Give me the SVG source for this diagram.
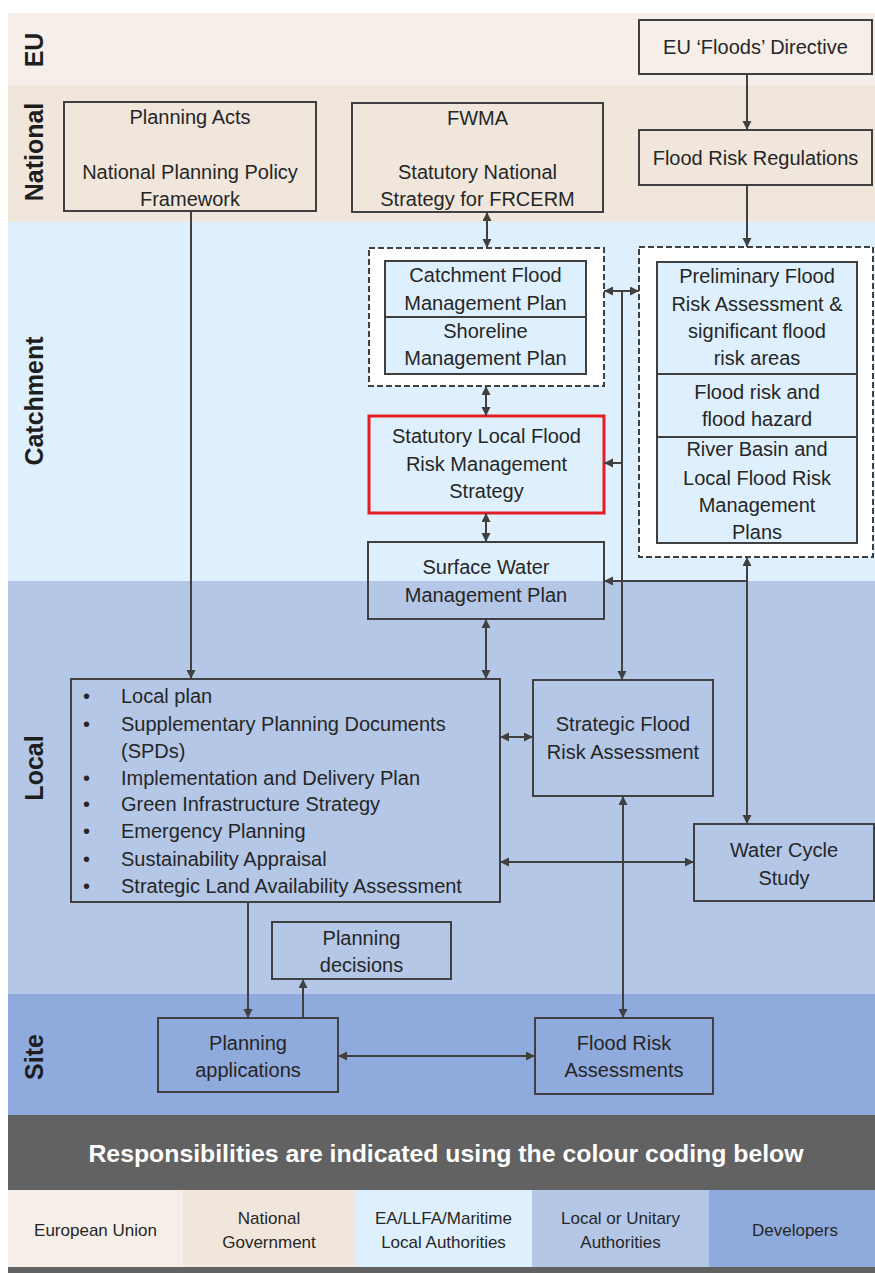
<svg xmlns="http://www.w3.org/2000/svg" width="875" height="1273" viewBox="0 0 875 1273">
<defs>
<marker id="arr" markerUnits="userSpaceOnUse" markerWidth="10" markerHeight="10" refX="9" refY="4.5" orient="auto-start-reverse" viewBox="0 0 10 10">
<path d="M0,0 L9,4.5 L0,9 z" fill="#404040"/>
</marker>
<style>
.box{fill:none;stroke:#404040;stroke-width:2}
.ibox{fill:#def0fd;stroke:#404040;stroke-width:2}
.dash{fill:#ffffff;stroke:#404040;stroke-width:2;stroke-dasharray:6 3}
.red{fill:none;stroke:#e31e24;stroke-width:3}
.t{font-family:"Liberation Sans",Arial,sans-serif;font-size:20px;fill:#262626;text-anchor:middle}
.tl{font-family:"Liberation Sans",Arial,sans-serif;font-size:20px;fill:#262626}
.band{font-family:"Liberation Sans",Arial,sans-serif;font-size:25px;font-weight:bold;fill:#1e1e1e;text-anchor:middle}
.leg{font-family:"Liberation Sans",Arial,sans-serif;font-size:17px;fill:#262626;text-anchor:middle}
.ban{font-family:"Liberation Sans",Arial,sans-serif;font-size:24.8px;font-weight:bold;fill:#ffffff;text-anchor:middle}
.c{fill:none;stroke:#404040;stroke-width:2}
.e{marker-end:url(#arr)}
.b{marker-start:url(#arr);marker-end:url(#arr)}
</style>
</defs>
<rect x="0" y="0" width="875" height="1273" fill="#ffffff"/>
<g id="bands">
<rect x="8" y="13" width="867" height="72" fill="#f6efe9"/>
<rect x="8" y="85" width="867" height="137" fill="#f1e6dc"/>
<rect x="8" y="222" width="867" height="359" fill="#def0fd"/>
<rect x="8" y="581" width="867" height="413" fill="#b4c7e7"/>
<rect x="8" y="994" width="867" height="121" fill="#8faadc"/>
<rect x="8" y="1115" width="867" height="75" fill="#626262"/>
<rect x="8" y="1190" width="175" height="77" fill="#f6efe9"/>
<rect x="183" y="1190" width="172" height="77" fill="#f1e6dc"/>
<rect x="355" y="1190" width="177" height="77" fill="#def0fd"/>
<rect x="532" y="1190" width="177" height="77" fill="#b4c7e7"/>
<rect x="709" y="1190" width="166" height="77" fill="#8faadc"/>
<rect x="8" y="1267" width="867" height="6" fill="#626262"/>
<text class="band" transform="translate(43,50) rotate(-90)">EU</text>
<text class="band" transform="translate(43,152) rotate(-90)">National</text>
<text class="band" transform="translate(43,401) rotate(-90)">Catchment</text>
<text class="band" transform="translate(43,768) rotate(-90)">Local</text>
<text class="band" transform="translate(43,1057) rotate(-90)">Site</text>
</g>
<g id="legend">
<text class="ban" x="446" y="1162">Responsibilities are indicated using the colour coding below</text>
<text class="leg" x="95.5" y="1236">European Union</text>
<text class="leg" x="269" y="1224">National</text>
<text class="leg" x="269" y="1248">Government</text>
<text class="leg" x="443.5" y="1224">EA/LLFA/Maritime</text>
<text class="leg" x="443.5" y="1248">Local Authorities</text>
<text class="leg" x="620.5" y="1224">Local or Unitary</text>
<text class="leg" x="620.5" y="1248">Authorities</text>
<text class="leg" x="795" y="1236">Developers</text>
</g>
<g id="eu-directive">
<rect class="box" x="639" y="20" width="233" height="54"/>
<text class="t" x="755.5" y="54">EU ‘Floods’ Directive</text>
</g>
<g id="flood-risk-regulations">
<rect class="box" x="639" y="130" width="233" height="55"/>
<text class="t" x="755.5" y="165">Flood Risk Regulations</text>
</g>
<g id="planning-acts">
<rect class="box" x="64" y="102" width="252" height="109"/>
<text class="t" x="190" y="124">Planning Acts</text>
<text class="t" x="190" y="179">National Planning Policy</text>
<text class="t" x="190" y="206">Framework</text>
</g>
<g id="fwma">
<rect class="box" x="352" y="103" width="251" height="109"/>
<text class="t" x="477.5" y="125">FWMA</text>
<text class="t" x="477.5" y="179">Statutory National</text>
<text class="t" x="477.5" y="206">Strategy for FRCERM</text>
</g>
<g id="catchment-group">
<rect class="dash" x="369" y="248" width="235" height="138"/>
<rect class="ibox" x="385" y="261" width="201" height="56"/>
<text class="t" x="485.5" y="282">Catchment Flood</text>
<text class="t" x="485.5" y="310">Management Plan</text>
<rect class="ibox" x="385" y="317" width="201" height="57"/>
<text class="t" x="485.5" y="338">Shoreline</text>
<text class="t" x="485.5" y="365">Management Plan</text>
</g>
<g id="regulations-group">
<rect class="dash" x="639" y="247" width="234" height="310"/>
<rect class="ibox" x="657" y="262" width="200" height="112"/>
<text class="t" x="757" y="283">Preliminary Flood</text>
<text class="t" x="757" y="311">Risk Assessment &amp;</text>
<text class="t" x="757" y="338">significant flood</text>
<text class="t" x="757" y="365">risk areas</text>
<rect class="ibox" x="657" y="374" width="200" height="63"/>
<text class="t" x="757" y="399">Flood risk and</text>
<text class="t" x="757" y="426">flood hazard</text>
<rect class="ibox" x="657" y="437" width="200" height="106"/>
<text class="t" x="757" y="456">River Basin and</text>
<text class="t" x="757" y="485">Local Flood Risk</text>
<text class="t" x="757" y="512">Management</text>
<text class="t" x="757" y="539">Plans</text>
</g>
<g id="lfrms">
<rect class="red" x="369" y="416" width="235" height="97"/>
<text class="t" x="486.5" y="443">Statutory Local Flood</text>
<text class="t" x="486.5" y="471">Risk Management</text>
<text class="t" x="486.5" y="498">Strategy</text>
</g>
<g id="swmp">
<rect class="box" x="368" y="542" width="236" height="77"/>
<text class="t" x="486" y="574">Surface Water</text>
<text class="t" x="486" y="602">Management Plan</text>
</g>
<g id="local-plan">
<rect class="box" x="71" y="679" width="429" height="223"/>
<g class="tl">
<text x="83" y="703">•</text><text x="121" y="703">Local plan</text>
<text x="83" y="731">•</text><text x="121" y="731">Supplementary Planning Documents</text>
<text x="121" y="758">(SPDs)</text>
<text x="83" y="785">•</text><text x="121" y="785">Implementation and Delivery Plan</text>
<text x="83" y="811">•</text><text x="121" y="811">Green Infrastructure Strategy</text>
<text x="83" y="838">•</text><text x="121" y="838">Emergency Planning</text>
<text x="83" y="866">•</text><text x="121" y="866">Sustainability Appraisal</text>
<text x="83" y="893">•</text><text x="121" y="893">Strategic Land Availability Assessment</text>
</g>
</g>
<g id="sfra">
<rect class="box" x="533" y="680" width="180" height="116"/>
<text class="t" x="623" y="731">Strategic Flood</text>
<text class="t" x="623" y="759">Risk Assessment</text>
</g>
<g id="water-cycle-study">
<rect class="box" x="694" y="824" width="180" height="77"/>
<text class="t" x="784" y="857">Water Cycle</text>
<text class="t" x="784" y="885">Study</text>
</g>
<g id="planning-decisions">
<rect class="box" x="272" y="922" width="179" height="57"/>
<text class="t" x="361.5" y="945">Planning</text>
<text class="t" x="361.5" y="972">decisions</text>
</g>
<g id="planning-applications">
<rect class="box" x="158" y="1018" width="180" height="74"/>
<text class="t" x="248" y="1050">Planning</text>
<text class="t" x="248" y="1077">applications</text>
</g>
<g id="flood-risk-assessments">
<rect class="box" x="535" y="1018" width="178" height="76"/>
<text class="t" x="624" y="1050">Flood Risk</text>
<text class="t" x="624" y="1077">Assessments</text>
</g>
<g id="connectors">
<line class="c e" x1="747" y1="74" x2="747" y2="130"/>
<line class="c e" x1="747" y1="185" x2="747" y2="247"/>
<line class="c b" x1="487" y1="212" x2="487" y2="248"/>
<line class="c b" x1="486" y1="386" x2="486" y2="416"/>
<line class="c b" x1="486" y1="513" x2="486" y2="542"/>
<line class="c b" x1="486" y1="619" x2="486" y2="679"/>
<line class="c b" x1="604" y1="291" x2="639" y2="291"/>
<line class="c e" x1="622" y1="291" x2="622" y2="680"/>
<line class="c e" x1="622" y1="463" x2="604" y2="463"/>
<line class="c b" x1="747" y1="557" x2="747" y2="824"/>
<line class="c e" x1="747" y1="581" x2="604" y2="581"/>
<line class="c b" x1="500" y1="737" x2="533" y2="737"/>
<line class="c b" x1="500" y1="862" x2="694" y2="862"/>
<line class="c b" x1="623" y1="796" x2="623" y2="1018"/>
<line class="c e" x1="191" y1="211" x2="191" y2="679"/>
<line class="c e" x1="248" y1="902" x2="248" y2="1018"/>
<line class="c e" x1="303" y1="1018" x2="303" y2="979"/>
<line class="c b" x1="338" y1="1056" x2="535" y2="1056"/>
</g>
</svg>
